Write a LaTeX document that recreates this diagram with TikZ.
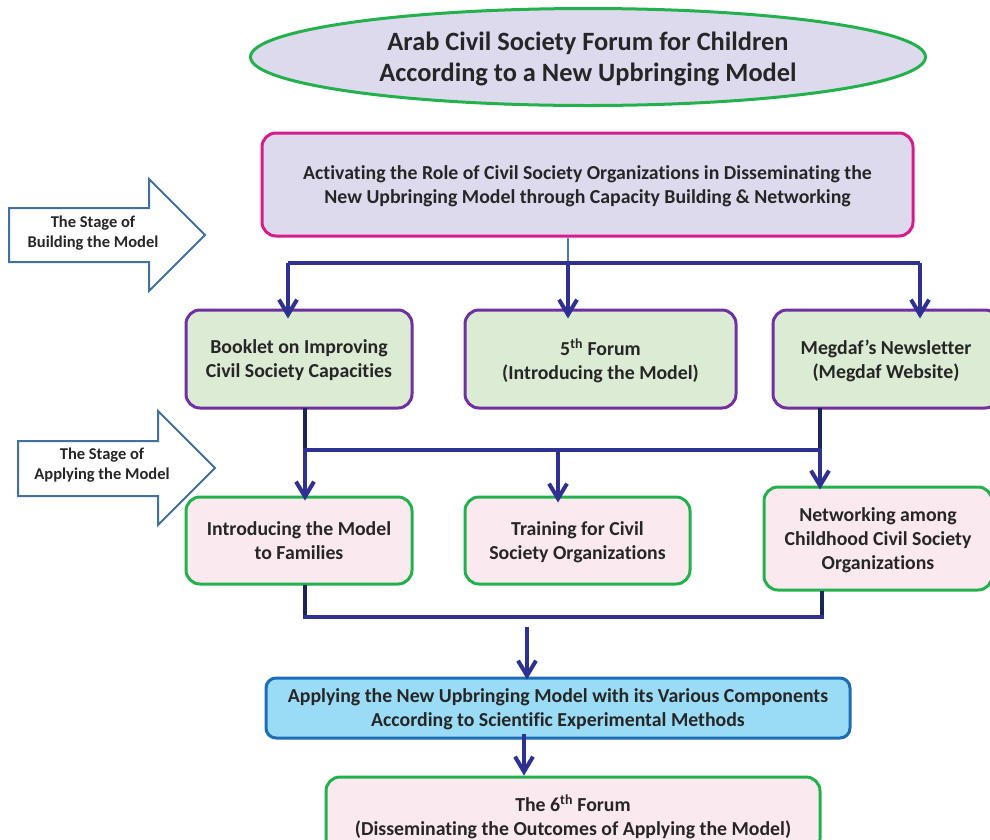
\documentclass[tikz,border=0pt]{standalone}
\usepackage{fontspec}
\setmainfont{Carlito}[Ligatures=NoCommon]
\usepackage{xcolor}
\usepackage{tikz}
\usetikzlibrary{calc,arrows.meta,positioning,shapes.geometric}
\definecolor{ink}{HTML}{262626}
\definecolor{lav}{HTML}{DEDAEE}
\definecolor{mint}{HTML}{DCEBD3}
\definecolor{blush}{HTML}{FBE9F0}
\definecolor{sky}{HTML}{9ADCF6}
\definecolor{grn}{HTML}{22B14C}
\definecolor{mag}{HTML}{D81B8C}
\definecolor{purp}{HTML}{7030A0}
\definecolor{deepblue}{HTML}{1C6DB5}
\definecolor{bus}{HTML}{2E3192}
\definecolor{navy}{HTML}{1B2557}
\definecolor{thin}{HTML}{4A78C2}
\definecolor{steel}{HTML}{41719C}
\tikzset{
  box/.style={rounded corners=14pt, line width=3pt, text=ink, align=center,
    inner sep=0pt, text depth=0pt, font=\bfseries\fontsize{19.8}{24}\selectfont},
  titlebox/.style={ellipse, draw=grn, fill=lav, line width=3pt, text=ink, align=center,
    inner sep=0pt, text depth=0pt, font=\bfseries\fontsize{26.4}{31}\selectfont},
  rolebox/.style={box, draw=mag, fill=lav},
  outbox/.style={box, draw=purp, fill=mint},
  actbox/.style={box, draw=grn, fill=blush},
  resbox/.style={box, draw=deepblue, fill=sky, rounded corners=10pt},
  link/.style={draw=bus, line width=4pt},
  stub/.style={draw=navy, line width=4pt},
  tip/.style={-{Straight Barb[length=15pt,width=18pt]}},
  stage/.style={draw=steel, fill=white, line width=2pt, line join=miter},
  stagetxt/.style={text=ink, align=center, text depth=0pt, font=\bfseries\fontsize{16.5}{20}\selectfont},
}

\begin{document}
\begin{tikzpicture}[x=1pt,y=-1pt]
\useasboundingbox (0,0) rectangle (990,839);

\node[titlebox, minimum width=675pt, minimum height=97pt] (forum) at (588,57)
  {Arab Civil Society Forum for Children\\According to a New Upbringing Model};
\node[rolebox, minimum width=651pt, minimum height=103pt] (role) at (587.5,184.5)
  {Activating the Role of Civil Society Organizations in Disseminating the\\New Upbringing Model through Capacity Building \& Networking};

% stage arrows
\draw[stage] (9,208) -- (149,208) -- (149,179) -- (205,235) -- (149,291) -- (149,262) -- (9,262) -- cycle;
\node[stagetxt] (build) at (93,232) {The Stage of\\Building the Model};
\draw[stage] (18,441) -- (158,441) -- (158,411) -- (215,468) -- (158,525) -- (158,496) -- (18,496) -- cycle;
\node[stagetxt] (apply) at (102,464) {The Stage of\\Applying the Model};

% outputs
\node[outbox, minimum width=226pt, minimum height=98pt] (booklet) at (299,359)
  {Booklet on Improving\\Civil Society Capacities};
\node[outbox, minimum width=271pt, minimum height=98pt] (fifth) at (600.5,359)
  {5\textsuperscript{th} Forum\\(Introducing the Model)};
\node[outbox, minimum width=226pt, minimum height=98pt] (letter) at (886,359)
  {Megdaf’s Newsletter\\(Megdaf Website)};

% activities
\node[actbox, minimum width=226pt, minimum height=87pt] (families) at (299,540.5)
  {Introducing the Model\\to Families};
\node[actbox, minimum width=225pt, minimum height=87pt] (training) at (577.5,540.5)
  {Training for Civil\\Society Organizations};
\node[actbox, minimum width=228pt, minimum height=103pt] (network) at (878,538.5)
  {Networking among\\Childhood Civil Society\\Organizations};

\node[resbox, minimum width=584pt, minimum height=60pt] (result) at (558,708)
  {Applying the New Upbringing Model with its Various Components\\According to Scientific Experimental Methods};
\node[actbox, minimum width=494pt, minimum height=76pt] (sixth) at (573,815)
  {The 6\textsuperscript{th} Forum\\(Disseminating the Outcomes of  Applying the Model)};

% connectors
\coordinate (b1) at (288,263);
\coordinate (b2) at (568,263);
\coordinate (b3) at (920,263);
\draw[draw=thin, line width=1.5pt] (role.south -| b2) -- (b2);
\draw[link] (b1) -- (b3);
\draw[link, tip] (b1) -- ([yshift=-10pt]booklet.north -| b1);
\draw[link, tip] (b2) -- ([yshift=-10pt]fifth.north -| b2);
\draw[link, tip] (b3) -- ([yshift=-10pt]letter.north -| b3);

\coordinate (c1) at (305,450);
\coordinate (c2) at (558,450);
\coordinate (c3) at (820,450);
\draw[stub] ([yshift=2pt]booklet.south -| c1) -- (c1);
\draw[stub] ([yshift=2pt]letter.south -| c3) -- (c3);
\draw[link] ([xshift=-2pt]c1) -- ([xshift=2pt]c3);
\draw[link, tip] (c1) -- ([yshift=-5pt]families.north -| c1);
\draw[link, tip] (c2) -- ([yshift=-7pt]training.north -| c2);
\draw[link, tip] (c3) -- ([yshift=-4pt]network.north -| c3);

\coordinate (d1) at (305,617);
\coordinate (d2) at (822,617);
\draw[stub] ([yshift=1pt]families.south -| d1) -- (d1);
\draw[stub] ([yshift=1pt]network.south -| d2) -- (d2);
\draw[link] ([xshift=-2pt]d1) -- ([xshift=2pt]d2);
\coordinate (d0) at (527,627);
\draw[link, tip] (d0) -- ([yshift=-3pt]result.north -| d0);

\draw[link, tip] ([yshift=6pt]result.south -| 524,0) -- (sixth.north -| 524,0);
\end{tikzpicture}
\end{document}
